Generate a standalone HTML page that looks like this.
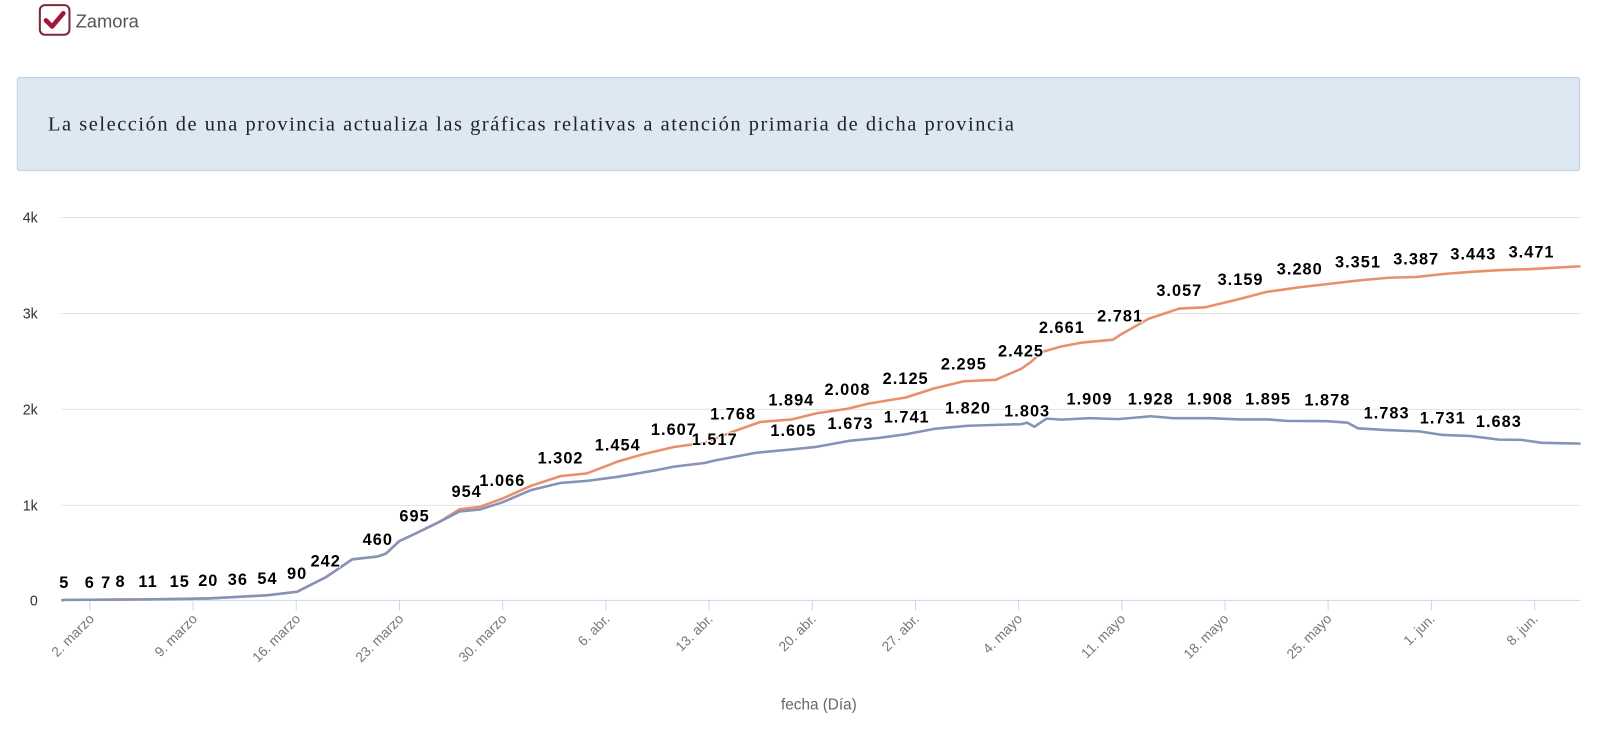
<!DOCTYPE html>
<html><head><meta charset="utf-8"><style>html,body{margin:0;padding:0;background:#fff;}svg{display:block}</style></head>
<body>
<svg width="1600" height="743" viewBox="0 0 1567 727.7" xmlns="http://www.w3.org/2000/svg" font-family="Liberation Sans, sans-serif">
<rect x="0" y="0" width="1567" height="728" fill="#fff"/>
<rect x="39" y="5" width="29" height="29" rx="5" fill="#fff" stroke="#7a2a3a" stroke-width="2"/>
<path d="M45 20 L51 26 L62 13" fill="none" stroke="#a0173a" stroke-width="4.5" stroke-linecap="round" stroke-linejoin="round"/>
<text x="74" y="27" font-size="18" fill="#555">Zamora</text>
<rect x="17" y="76" width="1530" height="91" rx="2" fill="#dde8f3" stroke="#c6d3e0" stroke-width="1.2"/>
<text x="47" y="128" font-size="20" fill="#222" font-family="Liberation Serif, serif" textLength="946" lengthAdjust="spacing">La selección de una provincia actualiza las gráficas relativas a atención primaria de dicha provincia</text>
<g stroke="#e4e4e4" stroke-width="1">
<line x1="60" x2="1548" y1="213" y2="213"/><line x1="60" x2="1548" y1="307" y2="307"/><line x1="60" x2="1548" y1="401" y2="401"/><line x1="60" x2="1548" y1="495" y2="495"/>
</g>
<line x1="60" x2="1548" y1="588" y2="588" stroke="#ccd6eb" stroke-width="1"/>
<g font-size="14" fill="#333" text-anchor="end">
<text x="37" y="218">4k</text><text x="37" y="312">3k</text><text x="37" y="406">2k</text><text x="37" y="500">1k</text><text x="37" y="593">0</text>
</g>
<g stroke="#ccd6eb" stroke-width="1">
<line x1="88" x2="88" y1="588" y2="598"/><line x1="189.1" x2="189.1" y1="588" y2="598"/><line x1="290.1" x2="290.1" y1="588" y2="598"/><line x1="391.2" x2="391.2" y1="588" y2="598"/><line x1="492.3" x2="492.3" y1="588" y2="598"/><line x1="593.4" x2="593.4" y1="588" y2="598"/><line x1="694.4" x2="694.4" y1="588" y2="598"/><line x1="795.5" x2="795.5" y1="588" y2="598"/><line x1="896.6" x2="896.6" y1="588" y2="598"/><line x1="997.6" x2="997.6" y1="588" y2="598"/><line x1="1098.7" x2="1098.7" y1="588" y2="598"/><line x1="1199.8" x2="1199.8" y1="588" y2="598"/><line x1="1300.8" x2="1300.8" y1="588" y2="598"/><line x1="1401.9" x2="1401.9" y1="588" y2="598"/><line x1="1503" x2="1503" y1="588" y2="598"/>
</g>
<g font-size="13.5" fill="#777" text-anchor="end">
<text transform="translate(93,607) rotate(-45)">2. marzo</text>
<text transform="translate(194,607) rotate(-45)">9. marzo</text>
<text transform="translate(295,607) rotate(-45)">16. marzo</text>
<text transform="translate(396,607) rotate(-45)">23. marzo</text>
<text transform="translate(497,607) rotate(-45)">30. marzo</text>
<text transform="translate(598,607) rotate(-45)">6. abr.</text>
<text transform="translate(699,607) rotate(-45)">13. abr.</text>
<text transform="translate(800,607) rotate(-45)">20. abr.</text>
<text transform="translate(901,607) rotate(-45)">27. abr.</text>
<text transform="translate(1002,607) rotate(-45)">4. mayo</text>
<text transform="translate(1103,607) rotate(-45)">11. mayo</text>
<text transform="translate(1204,607) rotate(-45)">18. mayo</text>
<text transform="translate(1305,607) rotate(-45)">25. mayo</text>
<text transform="translate(1406,607) rotate(-45)">1. jun.</text>
<text transform="translate(1507,607) rotate(-45)">8. jun.</text>
</g>
<text x="802" y="695" font-size="15" fill="#666" text-anchor="middle">fecha (Día)</text>
<polyline fill="none" stroke="#e8906c" stroke-width="2.5" stroke-linejoin="round" points="60,588 63,587.5 88,587.4 104,587.3 118,587.2 145,587 176,586.6 204,586.1 233,584.6 262,583 291,579.6 319,565.4 345,547.8 370,545 378,542.2 391,530 406,523 430,511.3 450,498.8 470,496.4 492,488.3 520,475.8 549,466.3 575,463.6 605,452 630,444.9 660,437.8 690,433.7 718,422.7 745,413.2 775,410.9 800,404.7 830,400.3 850,395.4 887,389.3 915,380.4 944,373.4 975,372 1000,361.3 1010,354.3 1020,344.9 1040,339.2 1060,335.5 1090,332.7 1097,328 1125,312.2 1155,302.2 1180,301 1215,292.6 1240,286 1273,281.3 1290,279.4 1330,274.7 1360,272 1387,271.3 1415,268.2 1443,266.1 1470,264.5 1500,263.5 1548,260.8"/>
<polyline fill="none" stroke="#8693b8" stroke-width="2.5" stroke-linejoin="round" points="60,588 63,587.5 88,587.4 104,587.3 118,587.2 145,587 176,586.6 204,586.1 233,584.6 262,583 291,579.6 319,565.4 345,547.8 370,545 378,542.2 391,530 406,523 430,511.3 450,501 470,499 492,492 520,480 549,473 575,471 605,467 640,461 660,457 690,453.5 700,451 740,443.5 777,440 800,437.6 833,431.6 860,429 888,425.2 915,420 948,417 980,416 1000,415.5 1006,414 1013,418 1025,410 1040,411 1067,409.5 1095,410.5 1127,407.7 1150,409.6 1185,409.6 1215,410.8 1242,410.8 1260,412.2 1300,412.5 1320,414 1330,419.5 1358,421.2 1390,422.5 1413,426 1440,427 1468,430.6 1490,430.8 1510,433.7 1548,434.5"/>
<g font-size="16" font-weight="bold" fill="#000" text-anchor="middle" stroke="#fff" stroke-width="2" paint-order="stroke" letter-spacing="1">
<text x="63" y="576">5</text><text x="88" y="576">6</text><text x="104" y="576">7</text><text x="118" y="575">8</text><text x="145" y="575">11</text><text x="176" y="575">15</text><text x="204" y="574">20</text><text x="233" y="573">36</text><text x="262" y="572">54</text><text x="291" y="567">90</text><text x="319" y="555">242</text><text x="370" y="534">460</text><text x="406" y="511">695</text><text x="457" y="487">954</text><text x="492" y="476">1.066</text>
<text x="549" y="454">1.302</text><text x="605" y="441">1.454</text><text x="660" y="426">1.607</text><text x="718" y="411">1.768</text><text x="775" y="397">1.894</text><text x="830" y="387">2.008</text><text x="887" y="376">2.125</text><text x="944" y="362">2.295</text><text x="1000" y="349">2.425</text><text x="1040" y="326">2.661</text><text x="1097" y="315">2.781</text><text x="1155" y="290">3.057</text><text x="1215" y="279">3.159</text><text x="1273" y="269">3.280</text><text x="1330" y="262">3.351</text><text x="1387" y="259">3.387</text><text x="1443" y="254">3.443</text><text x="1500" y="252">3.471</text>
<text x="700" y="436">1.517</text><text x="777" y="427">1.605</text><text x="833" y="420">1.673</text><text x="888" y="414">1.741</text><text x="948" y="405">1.820</text><text x="1006" y="408">1.803</text><text x="1067" y="396">1.909</text><text x="1127" y="396">1.928</text><text x="1185" y="396">1.908</text><text x="1242" y="396">1.895</text><text x="1300" y="397">1.878</text><text x="1358" y="410">1.783</text><text x="1413" y="415">1.731</text><text x="1468" y="418">1.683</text>
</g>
</svg>
</body></html>
